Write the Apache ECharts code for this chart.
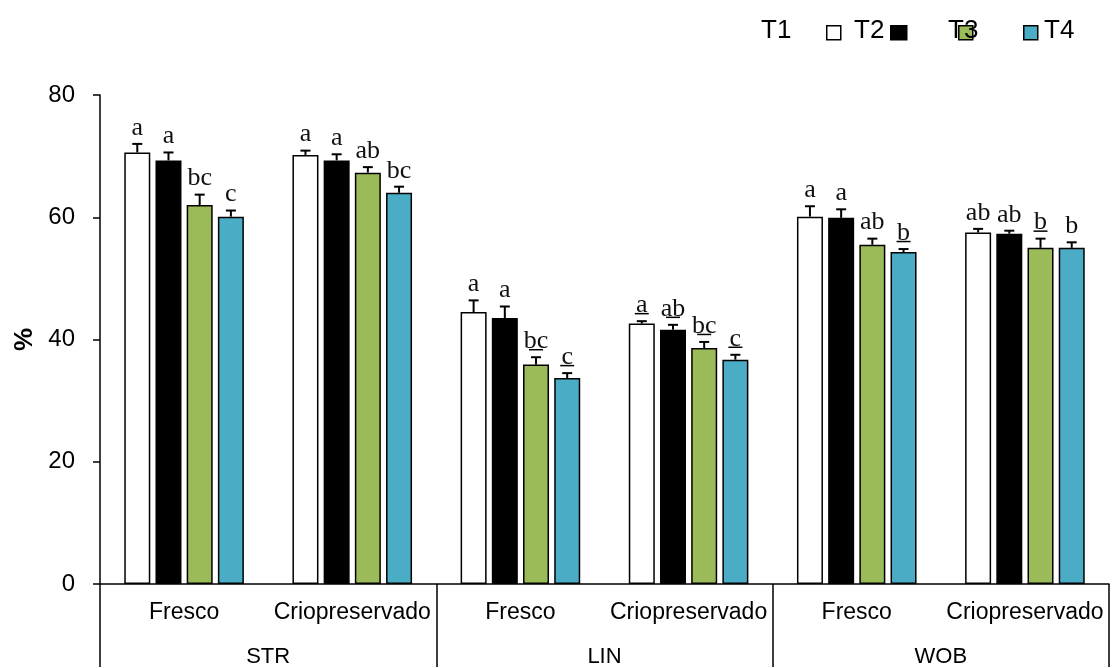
<!DOCTYPE html>
<html>
<head>
<meta charset="utf-8">
<script src="https://cdn.jsdelivr.net/npm/echarts@6/dist/echarts.min.js"></script>
<style>html,body{margin:0;padding:0;background:#fff}#c{width:1114px;height:668px}</style>
</head>
<body>
<div id="c"></div>
<script>
// ---- data ----
const subCategories = ['Fresco','Criopreservado','Fresco','Criopreservado','Fresco','Criopreservado'];
const groups = ['STR','LIN','WOB'];
const seriesNames = ['T1','T2','T3','T4'];
const T1 = [70.6, 70.2, 44.5, 42.6, 60.1, 57.5];
const T2 = [69.3, 69.3, 43.5, 41.6, 59.9, 57.3];
const T3 = [62.0, 67.3, 35.9, 38.6, 55.5, 55.0];
const T4 = [60.1, 64.0, 33.7, 36.7, 54.3, 55.0];
const T1err = [1.4, 0.7, 1.9, 0.4, 1.7, 0.6];
const T2err = [1.3, 1.0, 1.9, 0.8, 1.4, 0.5];
const T3err = [1.7, 0.9, 1.2, 1.0, 1.0, 1.5];
const T4err = [1.0, 1.0, 0.8, 0.8, 0.5, 0.9];
const T1letters = ['a','a','a','a','a','ab'];
const T2letters = ['a','a','a','ab','a','ab'];
const T3letters = ['bc','ab','bc','bc','ab','b'];
const T4letters = ['c','bc','c','c','b','b'];
const T1under = [0,0,0,1,0,0];
const T2under = [0,0,0,1,0,0];
const T3under = [0,0,1,1,0,1];
const T4under = [0,0,1,1,1,0];
const yTicks = [0,20,40,60,80];

const values = [T1,T2,T3,T4];
const errs = [T1err,T2err,T3err,T4err];
const letters = [T1letters,T2letters,T3letters,T4letters];
const unders = [T1under,T2under,T3under,T4under];
const colors = ['#ffffff','#000000','#9bbb59','#4bacc6'];

const BAR_W = 26, GAP = 0.2;
const pitch = BAR_W*(1+GAP);
const FONT = '"Liberation Sans", Arial, sans-serif';
const SERIF = '"Liberation Serif", "DejaVu Serif", serif';

const series = [];
seriesNames.forEach((n,i)=>{
  series.push({
    name:n, type:'bar', data: values[i], barWidth: BAR_W, barGap: (GAP*100)+'%',
    itemStyle:{color: colors[i], borderColor:'#000', borderWidth:1.5},
    z:2
  });
});
seriesNames.forEach((n,i)=>{
  const off = (i-1.5)*pitch;
  series.push({
    name:n+'_err', type:'custom', z:3,
    data: values[i].map((v,k)=>[k, v, errs[i][k]]),
    renderItem:(params, api)=>{
      const k = api.value(0), v = api.value(1), e = api.value(2);
      const lab = letters[i][k], u = unders[i][k];
      const b = api.coord([k, v]);
      const t = api.coord([k, v+e]);
      const x = b[0]+off;
      const ch = [
        {type:'line', shape:{x1:x,y1:b[1],x2:x,y2:t[1]}, style:{stroke:'#000', lineWidth:2}},
        {type:'line', shape:{x1:x-5,y1:t[1],x2:x+5,y2:t[1]}, style:{stroke:'#000', lineWidth:2}},
        {type:'text', style:{text:lab, x:x, y:t[1]-3, align:'center', verticalAlign:'bottom',
          font:'26px '+SERIF, fill:'#111'}}
      ];
      if(u){
        ch.push({type:'line', shape:{x1:x-7,y1:t[1]-7.5,x2:x+7,y2:t[1]-7.5}, style:{stroke:'#000', lineWidth:1.5}});
      }
      return {type:'group', children: ch};
    }
  });
});

// legend (drawn as graphic to mimic reference arrangement)
const legendText = [{t:'T1',x:761},{t:'T2',x:854},{t:'T3',x:948},{t:'T4',x:1044}];
const legendBox = [{x:826,w:14},{x:890,w:16},{x:958,w:14},{x:1023,w:14}];
const graphic = [];
legendBox.forEach((b,i)=>{
  graphic.push({type:'rect', left:b.x, top:25, shape:{width:b.w, height:14},
    style:{fill:colors[i], stroke:'#000', lineWidth:1.5}, z:10});
});
legendText.forEach((l)=>{
  graphic.push({type:'text', left:l.x, top:18, style:{text:l.t, font:'26px '+FONT, fill:'#000'}, z:11});
});

const option = {
  animation:false,
  backgroundColor:'#fff',
  grid:{left:100, right:5, top:95, bottom:83, containLabel:false},
  xAxis:[
    {type:'category', data: subCategories, gridIndex:0,
     axisLine:{show:true, lineStyle:{color:'#000', width:1.5}},
     axisTick:{show:false},
     axisLabel:{color:'#000', fontSize:23, fontFamily:FONT, margin:17, interval:0}},
    {type:'category', data: groups, gridIndex:0, position:'bottom',
     axisLine:{show:false},
     axisTick:{show:true, length:83, lineStyle:{color:'#000', width:1.5}},
     axisLabel:{color:'#000', fontSize:22, fontFamily:FONT, margin:62, interval:0}}
  ],
  yAxis:{type:'value', min:0, max:80, interval:20,
    axisLine:{show:true, lineStyle:{color:'#000', width:1.5}},
    axisTick:{show:true, length:7, lineStyle:{color:'#000', width:1.5}},
    splitLine:{show:false},
    axisLabel:{color:'#000', fontSize:24, fontFamily:FONT, margin:25,
      formatter:(v)=> yTicks.includes(v) ? String(v) : ''},
    name:'%', nameLocation:'middle', nameGap:60,
    nameTextStyle:{color:'#000', fontSize:26, fontWeight:'bold', fontFamily:FONT}
  },
  series: series,
  graphic: graphic
};
const chart = echarts.init(document.getElementById('c'), null, {renderer:'canvas'});
chart.setOption(option);
</script>
</body>
</html>
